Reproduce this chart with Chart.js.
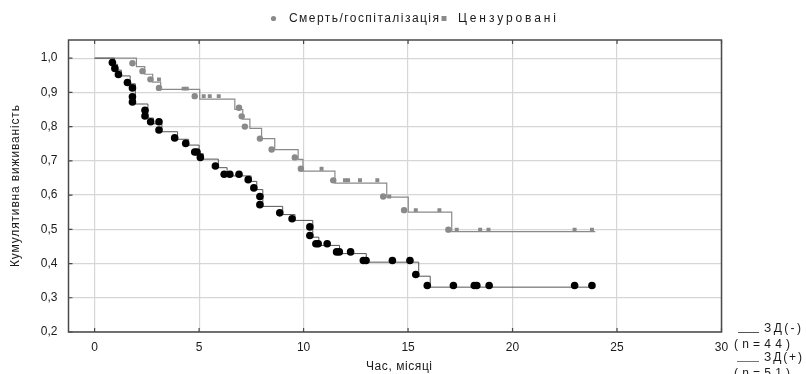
<!DOCTYPE html>
<html>
<head>
<meta charset="utf-8">
<script src="https://cdn.jsdelivr.net/npm/chart.js@4"></script>
<style>
  body { margin: 0; background: #fff; }
  canvas { display: block; }
</style>
</head>
<body>
<canvas id="chart" width="806" height="374"></canvas>
<script>
// ЗД(-), n=44: Kaplan-Meier step (months -> survival after drop)
const negStepT = [0, 2.0, 2.4, 2.78, 3.16, 5.03, 6.71, 7.09, 7.43, 7.99, 8.62, 9.74, 9.97, 11.5, 13.98, 15.01, 17.09, 23.96];
const negStepS = [1.0, 0.975, 0.953, 0.93, 0.909, 0.88, 0.85, 0.822, 0.795, 0.765, 0.733, 0.704, 0.67, 0.635, 0.594, 0.55, 0.493, 0.493];
// ЗД(-): events (death / hospitalisation)
const negEventT = [1.81, 2.29, 2.67, 3.08, 4.79, 6.91, 7.04, 7.19, 7.91, 8.47, 9.58, 9.87, 11.42, 13.81, 14.81, 16.93];
const negEventS = [0.985, 0.962, 0.938, 0.913, 0.889, 0.855, 0.83, 0.80, 0.765, 0.733, 0.71, 0.677, 0.643, 0.596, 0.556, 0.499];
// ЗД(-): censored
const negCensT = [3.08, 4.26, 4.41, 5.22, 5.51, 5.94, 10.86, 11.98, 12.13, 12.7, 13.53, 14.1, 15.37, 16.5, 17.33, 18.45, 18.85, 22.97, 23.8];
const negCensS = [0.938, 0.911, 0.911, 0.889, 0.889, 0.889, 0.677, 0.643, 0.643, 0.643, 0.643, 0.596, 0.556, 0.556, 0.499, 0.499, 0.499, 0.499, 0.499];

// ЗД(+), n=51
const posStepT = [0, 0.95, 1.1, 1.28, 1.7, 1.95, 2.55, 2.82, 3.22, 3.97, 4.5, 5.0, 5.2, 5.92, 6.34, 7.49, 7.76, 8.05, 9.0, 9.59, 10.44, 10.73, 11.72, 13.0, 15.51, 16.06, 23.96];
const posStepS = [1.0, 0.982, 0.965, 0.948, 0.925, 0.866, 0.825, 0.808, 0.785, 0.763, 0.746, 0.721, 0.705, 0.68, 0.656, 0.64, 0.616, 0.567, 0.543, 0.526, 0.477, 0.453, 0.429, 0.404, 0.363, 0.331, 0.331];
const posMarkT = [0.85, 0.97, 1.14, 1.57, 1.81, 1.81, 1.81, 2.41, 2.41, 2.68, 3.08, 3.08, 3.83, 4.36, 4.79, 4.9, 5.06, 5.78, 6.2, 6.47, 6.91, 7.35, 7.62, 7.91, 7.91, 8.86, 9.45, 10.3, 10.3, 10.59, 10.7, 11.13, 11.58, 11.71, 12.25, 12.86, 12.99, 14.25, 15.09, 15.37, 15.92, 17.17, 18.17, 18.29, 18.88, 22.97, 23.8];
const posMarkS = [0.987, 0.97, 0.952, 0.929, 0.913, 0.887, 0.872, 0.848, 0.831, 0.814, 0.814, 0.79, 0.767, 0.751, 0.726, 0.726, 0.71, 0.685, 0.661, 0.661, 0.661, 0.645, 0.621, 0.596, 0.572, 0.548, 0.531, 0.507, 0.482, 0.458, 0.458, 0.458, 0.434, 0.434, 0.434, 0.409, 0.409, 0.409, 0.409, 0.368, 0.336, 0.336, 0.336, 0.336, 0.336, 0.336, 0.336];

const xTicks = [0, 5, 10, 15, 20, 25, 30];
const yTicks = [0.2, 0.3, 0.4, 0.5, 0.6, 0.7, 0.8, 0.9, 1.0];

const GRAY = '#8a8a8a';

function pts(xs, ys) {
    return xs.map((x, i) => ({ x: x, y: ys[i] }));
}

// text stretched to a given width (the original has wide letter spacing)
function spaced(ctx, text, x, y, width) {
    ctx.letterSpacing = '0px';
    const natural = ctx.measureText(text).width;
    const gap = Math.max(0, (width - natural) / (text.length - 1));
    ctx.letterSpacing = gap.toFixed(2) + 'px';
    ctx.fillText(text, x, y);
    ctx.letterSpacing = '0px';
}

const decor = {
    id: 'decor',
    beforeDatasetsDraw(chart) {
        const ctx = chart.ctx;
        const a = chart.chartArea;
        const xs = chart.scales.x, ys = chart.scales.y;
        ctx.save();
        ctx.strokeStyle = '#4a4a4a';
        ctx.lineWidth = 1.5;
        ctx.strokeRect(a.left, a.top, a.right - a.left, a.bottom - a.top);
        ctx.lineWidth = 1.2;
        ctx.beginPath();
        xTicks.forEach(v => {
            const px = xs.getPixelForValue(v);
            ctx.moveTo(px, a.top); ctx.lineTo(px, a.top + 4);
            ctx.moveTo(px, a.bottom); ctx.lineTo(px, a.bottom - 4);
        });
        yTicks.forEach(v => {
            const py = ys.getPixelForValue(v);
            ctx.moveTo(a.left, py); ctx.lineTo(a.left + 4, py);
        });
        ctx.stroke();
        ctx.restore();
    },
    afterDraw(chart) {
        const ctx = chart.ctx;
        const a = chart.chartArea;
        ctx.save();
        ctx.fillStyle = '#1a1a1a';
        ctx.textBaseline = 'middle';
        ctx.textAlign = 'left';
        ctx.font = '12px "Liberation Sans", Arial, sans-serif';

        // top legend
        ctx.fillStyle = GRAY;
        ctx.beginPath();
        ctx.arc(273.5, 18.5, 2.6, 0, Math.PI * 2);
        ctx.fill();
        ctx.fillRect(441.5, 16, 5, 5);
        ctx.fillStyle = '#1a1a1a';
        spaced(ctx, 'Смерть/госпіталізація', 289, 19, 150);
        spaced(ctx, 'Цензуровані', 458, 19, 98);

        // axis titles
        spaced(ctx, 'Час, місяці', 366, 367, 66);
        ctx.save();
        ctx.translate(16, (a.top + a.bottom) / 2);
        ctx.rotate(-Math.PI / 2);
        spaced(ctx, 'Кумулятивна виживаність', -81, 0, 162);
        ctx.restore();

        // group legend, bottom right
        ctx.lineWidth = 1;
        ctx.strokeStyle = '#555';
        ctx.beginPath();
        ctx.moveTo(738, 332.5); ctx.lineTo(759, 332.5);
        ctx.stroke();
        ctx.strokeStyle = '#777';
        ctx.beginPath();
        ctx.moveTo(737, 361.5); ctx.lineTo(759, 361.5);
        ctx.stroke();
        spaced(ctx, 'ЗД(-)', 764, 328.5, 37);
        spaced(ctx, '(n=44)', 734, 345, 56);
        spaced(ctx, 'ЗД(+)', 764, 358, 38);
        spaced(ctx, '(n=51)', 734, 373.5, 56);
        ctx.restore();
    }
};

Chart.defaults.font.family = '"Liberation Sans", Arial, sans-serif';
Chart.defaults.font.size = 12;
Chart.defaults.color = '#1a1a1a';

const ctx = document.getElementById('chart').getContext('2d');
const chart = new Chart(ctx, {
    type: 'scatter',
    data: {
        datasets: [
            {
                label: 'ЗД(+)',
                data: pts(posMarkT, posMarkS),
                pointStyle: 'circle',
                pointRadius: 3.8,
                backgroundColor: '#000',
                borderColor: '#000',
                borderWidth: 0
            },
            {
                label: 'Смерть/госпіталізація',
                data: pts(negEventT, negEventS),
                pointStyle: 'circle',
                pointRadius: 3.2,
                backgroundColor: GRAY,
                borderColor: GRAY,
                borderWidth: 0
            },
            {
                label: 'Цензуровані',
                data: pts(negCensT, negCensS),
                pointStyle: 'rect',
                pointRadius: 2.8,
                backgroundColor: GRAY,
                borderColor: GRAY,
                borderWidth: 0
            },
            {
                label: 'ЗД(+) (n=51)',
                data: pts(posStepT, posStepS),
                showLine: true,
                stepped: true,
                pointRadius: 0,
                borderColor: '#555',
                borderWidth: 1
            },
            {
                label: 'ЗД(-) (n=44)',
                data: pts(negStepT, negStepS),
                showLine: true,
                stepped: true,
                pointRadius: 0,
                borderColor: GRAY,
                borderWidth: 1.2
            }
        ]
    },
    options: {
        responsive: false,
        devicePixelRatio: 1,
        animation: false,
        layout: {
            padding: { left: 0, top: 40, right: 84.5, bottom: 0 }
        },
        plugins: {
            legend: { display: false },
            tooltip: { enabled: false }
        },
        scales: {
            x: {
                type: 'linear',
                min: -1.25,
                max: 30,
                afterBuildTicks: s => { s.ticks = xTicks.map(v => ({ value: v })); },
                afterFit: s => { s.height = 42; },
                grid: { color: '#d6d6d6', lineWidth: 1.2, drawTicks: false },
                border: { display: false },
                ticks: { padding: 8, maxRotation: 0 }
            },
            y: {
                type: 'linear',
                min: 0.2,
                max: 1.053,
                afterBuildTicks: s => { s.ticks = yTicks.map(v => ({ value: v })); },
                afterFit: s => { s.width = 68.5; },
                grid: { color: '#d6d6d6', lineWidth: 1.2, drawTicks: false },
                border: { display: false },
                ticks: {
                    padding: 11,
                    callback: v => v.toFixed(1).replace('.', ',')
                }
            }
        }
    },
    plugins: [decor]
});
</script>
</body>
</html>
